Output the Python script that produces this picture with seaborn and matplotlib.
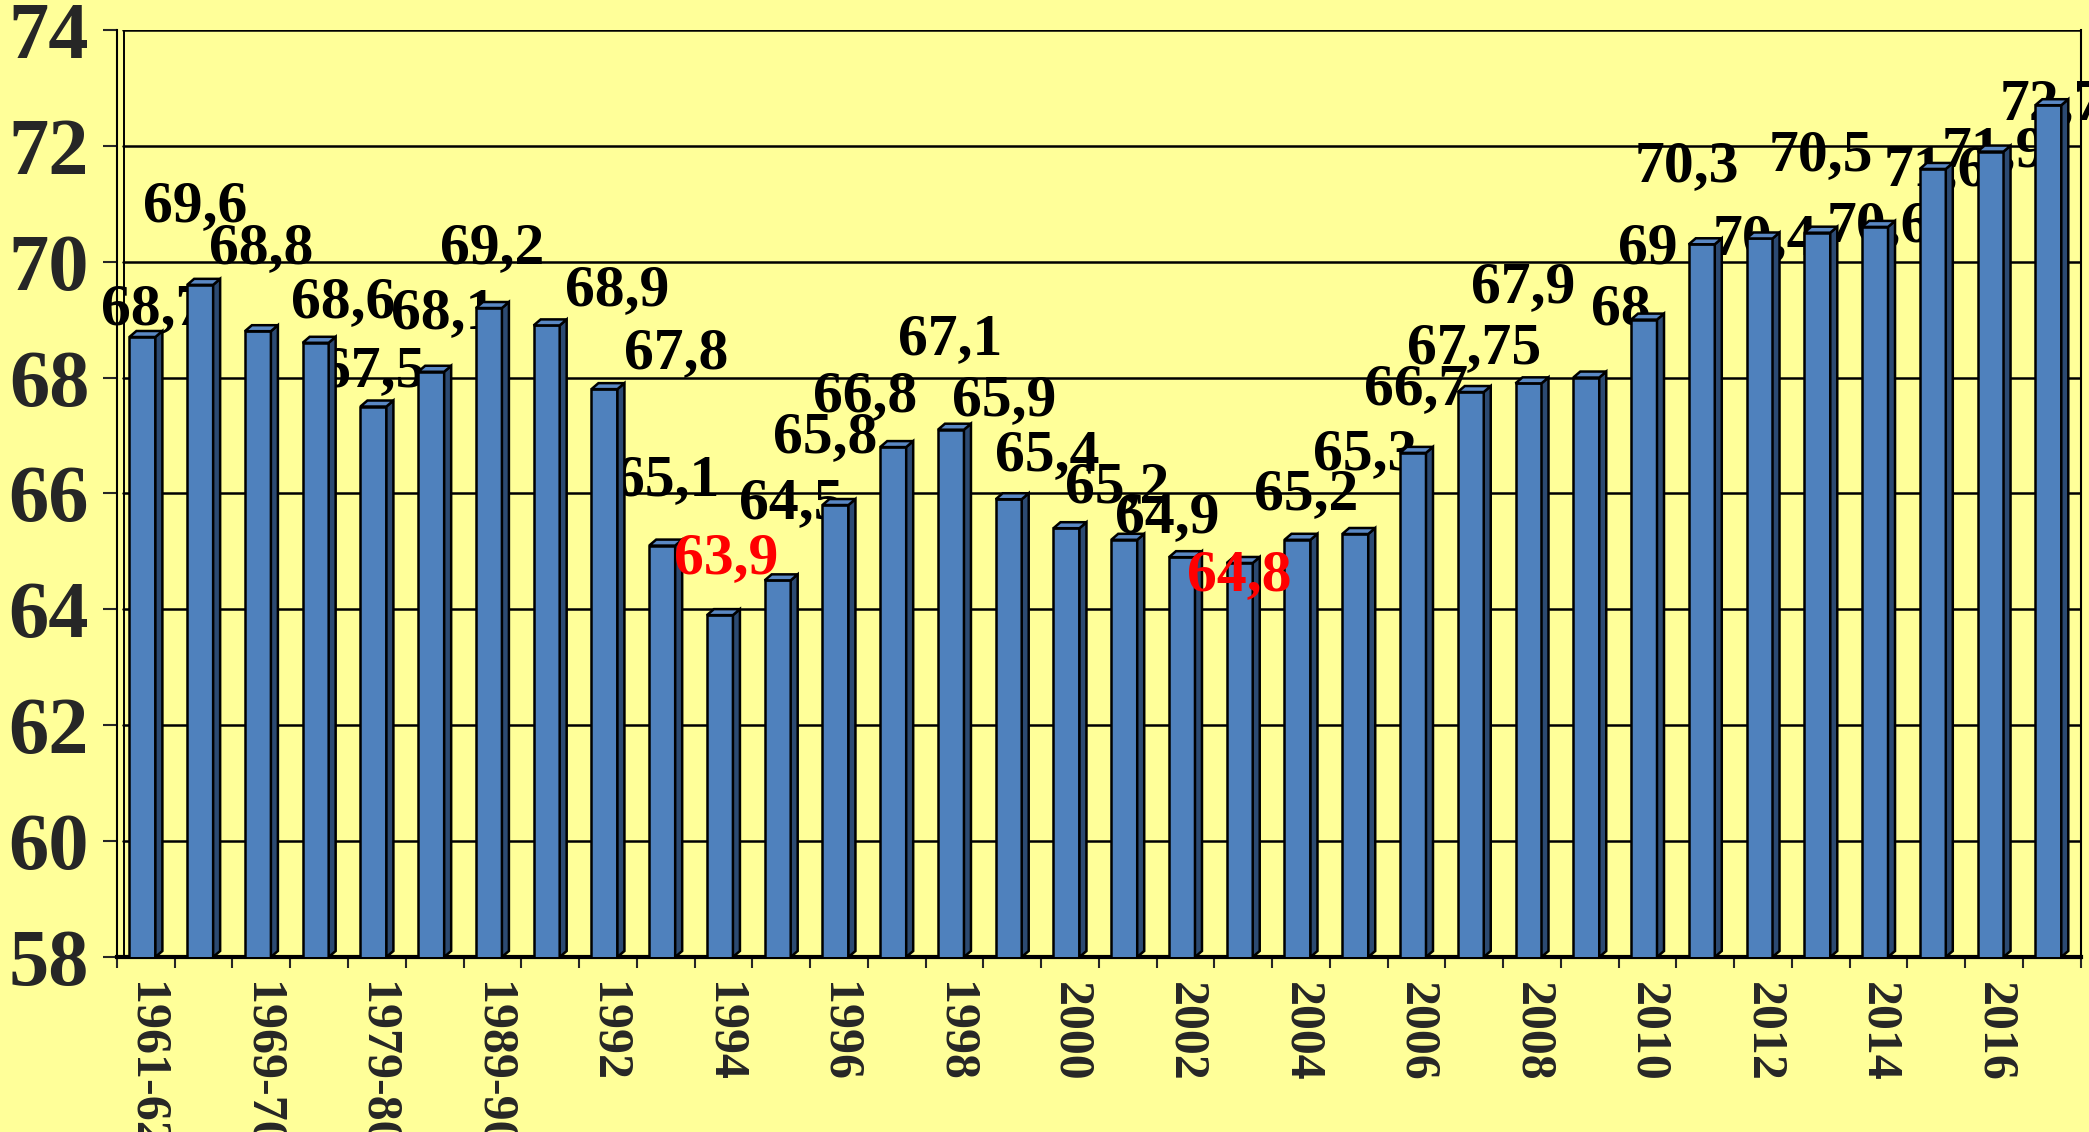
import matplotlib
matplotlib.use("Agg")
import matplotlib.pyplot as plt
from matplotlib.patches import Polygon
import seaborn as sns
import pandas as pd
import numpy as np

# periods (only every second one is labelled on the axis)
periods = ["1961-62", "1964-65", "1969-70", "1974-75", "1979-80", "1984-85",
           "1989-90", "1991", "1992", "1993", "1994", "1995", "1996", "1997",
           "1998", "1999", "2000", "2001", "2002", "2003", "2004", "2005",
           "2006", "2007", "2008", "2009", "2010", "2011", "2012", "2013",
           "2014", "2015", "2016", "2017"]
life_exp = [68.7, 69.6, 68.8, 68.6, 67.5, 68.1, 69.2, 68.9, 67.8, 65.1,
            63.9, 64.5, 65.8, 66.8, 67.1, 65.9, 65.4, 65.2, 64.9, 64.8,
            65.2, 65.3, 66.7, 67.75, 67.9, 68.0, 69.0, 70.3, 70.4, 70.5,
            70.6, 71.6, 71.9, 72.7]
highlight = ["1994", "2003"]

# hand placement of the value labels (shift in bar slots / years)
label_dx = [0.12, -0.15, 0, 0.41, -0.07, 0.14, 0, 1.16, 1.19, 0.03,
            0.05, 0.17, -0.24, -0.54, -0.07, -0.14, -0.40, -0.18, -0.31, -0.07,
            0.09, 0.12, 0, 0, -0.16, 0.53, 0, -0.31, 0.03, 0,
            0, 0, 0, 0]
label_dy = [0.47, 1.34, 1.41, 0.68, 0.60, 0.99, 1.01, 0.59, 0.60, 1.12,
            0.96, 1.31, 1.15, 0.87, 1.54, 1.69, 1.24, 0.90, 0.68, -0.22,
            0.78, 1.37, 1.09, 0.75, 1.64, 1.16, 1.21, 1.33, -0.02, 1.33,
            -0.01, -0.03, -0.01, 0.0]

df = pd.DataFrame({"period": periods, "value": life_exp})

BG = "#FFFF99"
FRONT = "#4F81BD"
SIDE = "#2C4A72"
TOP = "#5A88C4"
YMIN, YMAX = 58, 74

sns.set_style("white")
plt.rcParams["font.family"] = ["Liberation Serif", "DejaVu Serif"]
plt.rcParams["font.weight"] = "bold"

fig = plt.figure(figsize=(20.89, 11.32), dpi=100, facecolor=BG)
ax = fig.add_axes([0.056, 0.1546, 0.940, 0.819])
ax.set_facecolor(BG)

sns.barplot(data=df, x="period", y="value", order=periods, color=FRONT,
            width=0.45, saturation=1, edgecolor="black", linewidth=1.8,
            ax=ax, zorder=3)
ax.set_xlim(-0.5, len(periods) - 0.5)
ax.set_ylim(YMIN, YMAX)

# depth of the pseudo-3D bars, in data units (about 6 px each way)
ax_w_px = 0.940 * 20.89 * 100
ax_h_px = 0.819 * 11.32 * 100
ddx = 7 / (ax_w_px / len(periods))
ddy = 6 / (ax_h_px / (YMAX - YMIN))

for p in ax.patches:
    p.set_x(p.get_x() - 0.06)
    x0, w, h = p.get_x(), p.get_width(), p.get_height()
    side = Polygon([(x0 + w, YMIN), (x0 + w + ddx, YMIN + ddy),
                    (x0 + w + ddx, h + ddy), (x0 + w, h)],
                   closed=True, facecolor=SIDE, edgecolor="black", lw=1.8, zorder=3)
    top = Polygon([(x0, h), (x0 + ddx, h + ddy), (x0 + w + ddx, h + ddy),
                   (x0 + w, h)],
                  closed=True, facecolor=TOP, edgecolor="black", lw=1.8, zorder=3)
    ax.add_patch(side)
    ax.add_patch(top)

# value labels sit behind the bars, the red ones in front
for i, (per, v) in enumerate(zip(periods, life_exp)):
    txt = f"{v:g}".replace(".", ",")
    red = per in highlight
    ax.text(i + label_dx[i], v + label_dy[i], txt, ha="center", va="center",
            fontsize=43, fontweight="bold", color="red" if red else "black",
            zorder=5 if red else 2, clip_on=False)

# horizontal grid / back wall
for yv in range(YMIN + 2, YMAX + 1, 2):
    ax.axhline(yv, xmin=0.003, color="black", lw=1.8, zorder=1)
ax.axvline(-0.5 + ddx, color="black", lw=1.4, zorder=1)

ax.set_yticks(range(YMIN, YMAX + 1, 2))
ax.tick_params(axis="y", labelsize=58, length=10, width=1.5, pad=10,
               direction="out", left=True)
for t in ax.get_yticklabels():
    t.set_fontweight("bold")

ax.set_xticks(range(0, len(periods), 2))
ax.set_xticklabels(periods[::2], rotation=-90, fontsize=36, fontweight="bold",
                   va="top", ha="center")
ax.set_xticks(np.arange(-0.5, len(periods), 1), minor=True)
ax.tick_params(axis="x", which="major", length=0, pad=18)
ax.tick_params(axis="x", which="minor", length=8, width=1.5, direction="out",
               bottom=True)

ax.set_xlabel("")
ax.set_ylabel("")
for s in ["left", "right"]:
    ax.spines[s].set_color("black")
    ax.spines[s].set_linewidth(1.5)
ax.spines["bottom"].set_color("black")
ax.spines["bottom"].set_linewidth(3)
ax.spines["top"].set_visible(False)

fig.savefig("out.png", dpi=100, facecolor=BG)
